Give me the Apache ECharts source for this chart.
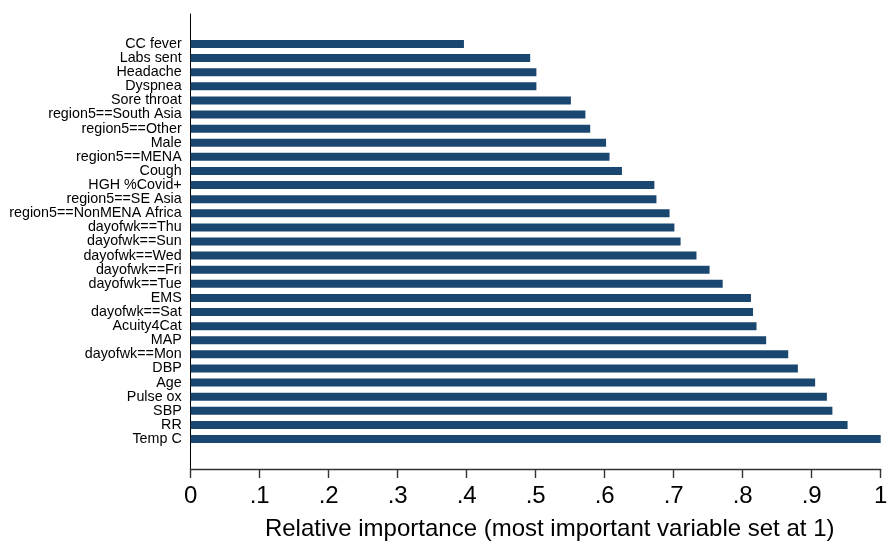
<!DOCTYPE html>
<html>
<head>
<meta charset="utf-8">
<script src="https://cdn.jsdelivr.net/npm/echarts@6/dist/echarts.min.js"></script>
<style>
html,body{margin:0;padding:0;background:#fff;}
#chart{width:894px;height:547px;}
</style>
</head>
<body>
<div id="chart"></div>
<script>
// Categories (top to bottom)
const categories = [
  "CC fever","Labs sent","Headache","Dyspnea","Sore throat",
  "region5==South Asia","region5==Other","Male","region5==MENA","Cough",
  "HGH %Covid+","region5==SE Asia","region5==NonMENA Africa","dayofwk==Thu","dayofwk==Sun",
  "dayofwk==Wed","dayofwk==Fri","dayofwk==Tue","EMS","dayofwk==Sat",
  "Acuity4Cat","MAP","dayofwk==Mon","DBP","Age",
  "Pulse ox","SBP","RR","Temp C"
];
// Relative importance values
const importance = [
  0.396,0.492,0.501,0.501,0.551,
  0.572,0.579,0.602,0.607,0.625,
  0.672,0.675,0.694,0.701,0.710,
  0.733,0.752,0.771,0.812,0.815,
  0.820,0.834,0.866,0.880,0.905,
  0.922,0.930,0.952,1.000
];
// X tick labels
const xTicks = [0,0.1,0.2,0.3,0.4,0.5,0.6,0.7,0.8,0.9,1];
const xTickLabels = ["0",".1",".2",".3",".4",".5",".6",".7",".8",".9","1"];
const xTitle = "Relative importance (most important variable set at 1)";

const font = "'Liberation Sans', Arial, Helvetica, sans-serif";
const chart = echarts.init(document.getElementById('chart'), null, {renderer:'canvas'});

const L = 190.7, R = 894 - 880.7;
const option = {
  animation: false,
  backgroundColor: '#ffffff',
  grid: [
    {left: L, right: R, top: 14, bottom: 547 - 469, containLabel: false},
    {left: L, right: R, top: 36.95, height: 409.1, containLabel: false}
  ],
  xAxis: [
    {
      gridIndex: 0, type: 'value', min: 0, max: 1, interval: 0.1,
      name: xTitle, nameLocation: 'middle', nameGap: 48,
      nameTextStyle: {fontFamily: font, fontSize: 24, color: '#000', padding:[0,0,0,28]},
      axisLine: {show: true, lineStyle: {color: '#333', width: 1.4}},
      axisTick: {show: true, length: 9, inside: false, lineStyle: {color: '#333', width: 1.4}},
      axisLabel: {
        margin: 15, fontFamily: font, fontSize: 24, color: '#000',
        formatter: function (v) {
          const i = xTicks.findIndex(t => Math.abs(t - v) < 1e-9);
          return i >= 0 ? xTickLabels[i] : '';
        }
      },
      splitLine: {show: false}
    },
    {
      gridIndex: 1, type: 'value', min: 0, max: 1,
      axisLine: {show: false}, axisTick: {show: false}, axisLabel: {show: false}, splitLine: {show: false}
    }
  ],
  yAxis: [
    {
      gridIndex: 0, type: 'value', min: 0, max: 1,
      axisLine: {show: true, onZero: false, lineStyle: {color: '#000', width: 1}},
      axisTick: {show: false}, axisLabel: {show: false}, splitLine: {show: false}
    },
    {
      gridIndex: 1, type: 'category', data: categories, inverse: true,
      axisLine: {show: false}, axisTick: {show: false}, splitLine: {show: false},
      axisLabel: {margin: 9, fontFamily: font, fontSize: 14.3, color: '#000', interval: 0}
    }
  ],
  series: [
    {
      type: 'bar', xAxisIndex: 1, yAxisIndex: 1,
      data: importance, barWidth: 8,
      itemStyle: {color: '#1a476f'}
    }
  ]
};
chart.setOption(option);
</script>
</body>
</html>
